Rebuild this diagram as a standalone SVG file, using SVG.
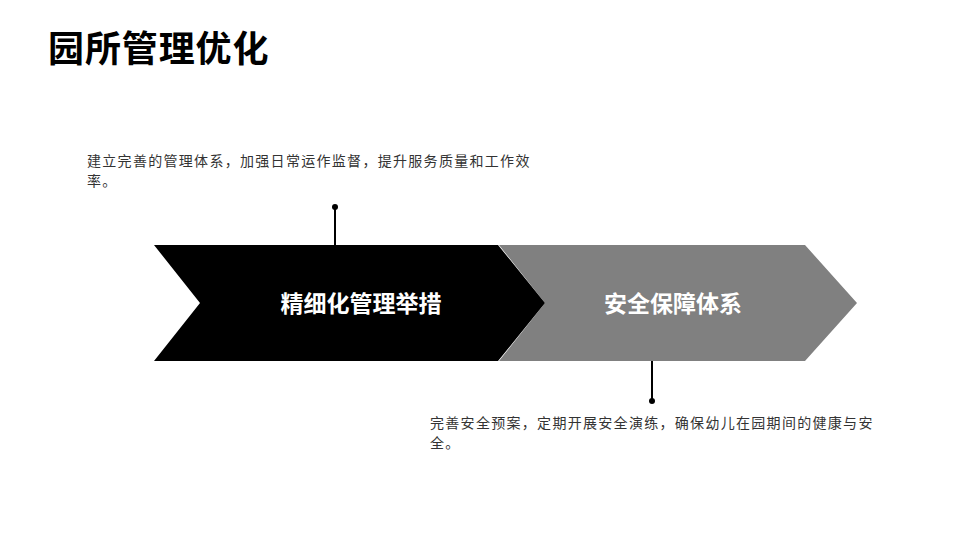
<svg xmlns="http://www.w3.org/2000/svg" width="960" height="540" viewBox="0 0 960 540">
<style>
.title{font-family:"Noto Sans CJK SC","Noto Sans",sans-serif;font-size:36px;letter-spacing:0.9px;font-weight:bold;fill:#000}
.lbl{font-family:"Noto Sans CJK SC","Noto Sans",sans-serif;font-size:23px;font-weight:bold;fill:#fff;text-anchor:middle}
.desc{font-family:"Noto Sans CJK SC","Noto Sans",sans-serif;font-size:14px;letter-spacing:1.3px;fill:#333}
.conn{stroke:#000;stroke-width:2;fill:none}
</style>
<rect width="960" height="540" fill="#fff"/>
<text class="title" x="48" y="62">园所管理优化</text>
<g id="node-safety">
<polygon points="499,245 805,245 857,303 805,361 499,361 545,303" fill="#808080"/>
<text class="lbl" x="673" y="312">安全保障体系</text>
</g>
<g id="node-management">
<polygon points="154,245 498,245 545,303 498,361 154,361 200,303" fill="#000"/>
<text class="lbl" x="361" y="312">精细化管理举措</text>
</g>
<g id="connectors">
<line class="conn" x1="335" y1="207" x2="335" y2="245"/>
<circle cx="335" cy="207" r="3" fill="#000"/>
<line class="conn" x1="652" y1="361" x2="652" y2="401"/>
<circle cx="652" cy="401" r="3" fill="#000"/>
</g>
<g id="desc-management">
<text class="desc" x="87" y="166">建立完善的管理体系，加强日常运作监督，提升服务质量和工作效</text>
<text class="desc" x="87" y="186">率。</text>
</g>
<g id="desc-safety">
<text class="desc" x="430" y="428">完善安全预案，定期开展安全演练，确保幼儿在园期间的健康与安</text>
<text class="desc" x="430" y="448">全。</text>
</g>
</svg>
